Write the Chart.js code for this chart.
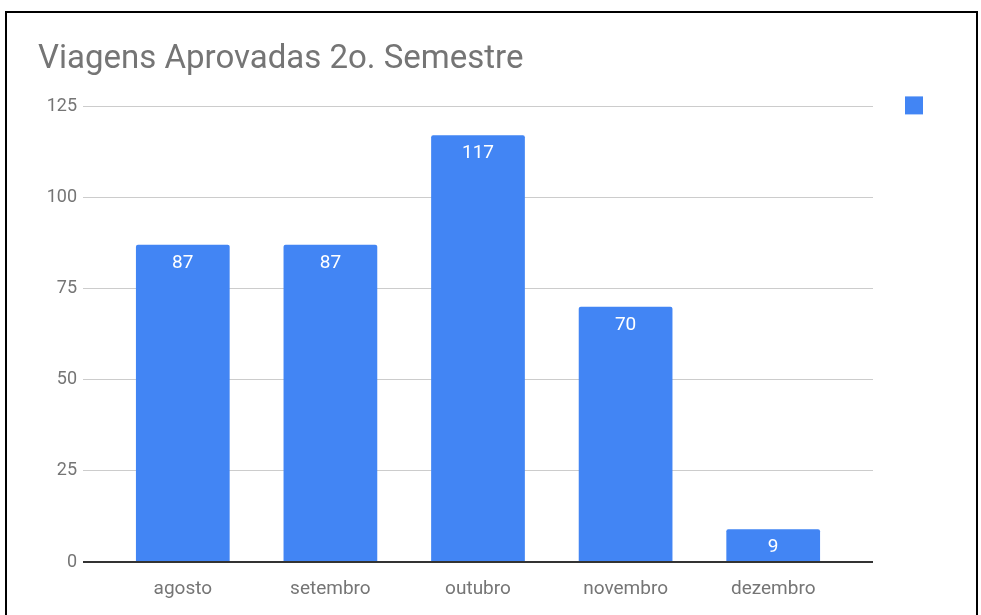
<!DOCTYPE html>
<html><head><meta charset="utf-8">
<script src="https://cdn.jsdelivr.net/npm/chart.js@4"></script>
<style>
html,body{margin:0;padding:0;background:#fff;}
#wrap{position:relative;width:981px;height:615px;overflow:hidden;}
#frame{position:absolute;left:5px;top:11px;width:973px;height:700px;border:2px solid #000;box-sizing:border-box;}
canvas{position:absolute;left:0;top:0;}
</style></head><body>
<div id="wrap"><div id="frame"></div><canvas id="c" width="981" height="615"></canvas></div>
<script>
const categories = ['agosto','setembro','outubro','novembro','dezembro'];
const values = [87, 87, 117, 70, 9];
const yTicks = [0, 25, 50, 75, 100, 125];
const chartTitle = 'Viagens Aprovadas 2o. Semestre';
const seriesName = '';

const BLUE = '#4285F4';
const GREY = '#757575';
const gridCol = ctx => (ctx.tick && ctx.tick.value === 0) ? '#333333' : '#cccccc';
const gridW = ctx => (ctx.tick && ctx.tick.value === 0) ? 2 : 1;

const labelPlugin = {
  id: 'barLabels',
  afterDatasetsDraw(chart) {
    const ctx = chart.ctx;
    const meta = chart.getDatasetMeta(0);
    ctx.save();
    ctx.fillStyle = '#ffffff';
    ctx.font = '19px Roboto';
    ctx.textAlign = 'center';
    ctx.textBaseline = 'alphabetic';
    meta.data.forEach((el, i) => {
      ctx.fillText(String(values[i]), el.x, el.y + 23);
    });
    ctx.restore();
  }
};

new Chart(document.getElementById('c'), {
  type: 'bar',
  data: {
    labels: categories,
    datasets: [{
      label: seriesName,
      data: values,
      backgroundColor: BLUE,
      borderRadius: 2,
      borderSkipped: 'bottom',
      categoryPercentage: 1,
      barPercentage: 0.635
    }]
  },
  options: {
    responsive: false,
    animation: false,
    layout: { padding: { left: 38, right: 42, top: 12, bottom: 0 } },
    plugins: {
      title: {
        display: true, text: chartTitle, align: 'start', color: GREY,
        font: { family: 'Roboto', size: 33, weight: 'normal', lineHeight: 1.2 },
        padding: { top: 27.5, bottom: 27 }
      },
      legend: {
        display: true, position: 'right', align: 'start',
        title: { display: true, text: '', padding: { top: 38, bottom: 0 }, font: { size: 12 } },
        labels: { boxWidth: 18, boxHeight: 18, padding: 32, font: { family: 'Roboto', size: 12 } }
      },
      tooltip: { enabled: false }
    },
    scales: {
      x: {
        grid: { display: false },
        border: { display: false },
        ticks: { color: GREY, font: { family: 'Roboto', size: 19 }, padding: 8 },
        afterFit: a => { a.height = 53; }
      },
      y: {
        position: 'left', min: 0, max: 125,
        afterBuildTicks: a => { a.ticks = yTicks.map(v => ({ value: v })); },
        ticks: { color: GREY, font: { family: 'Roboto', size: 18 }, padding: 6 },
        grid: { color: gridCol, tickColor: gridCol, lineWidth: gridW, tickLength: 26 },
        border: { display: false },
        afterFit: a => { a.width = 71; }
      },
      y2: {
        position: 'right', min: 0, max: 125,
        afterBuildTicks: a => { a.ticks = yTicks.map(v => ({ value: v })); },
        ticks: { display: false },
        grid: { drawOnChartArea: false, color: gridCol, tickColor: gridCol, lineWidth: gridW, tickLength: 26 },
        border: { display: false },
        afterFit: a => { a.width = 26; }
      }
    }
  },
  plugins: [labelPlugin]
});
</script>
</body></html>
